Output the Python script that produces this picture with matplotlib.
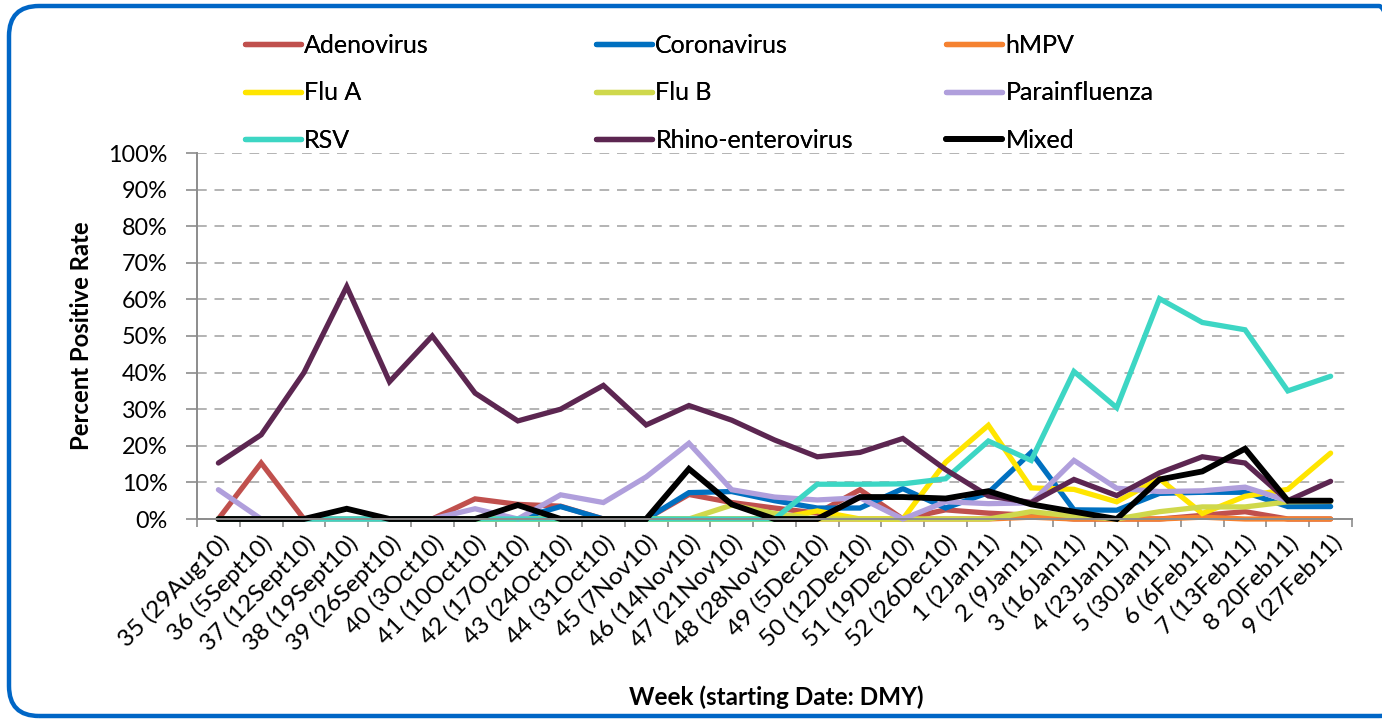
import matplotlib
matplotlib.use('Agg')
import matplotlib.pyplot as plt
from matplotlib.patches import FancyBboxPatch
from matplotlib.ticker import FixedLocator, PercentFormatter

plt.rcParams['font.family'] = ['Lato', 'DejaVu Sans']

weeks = ['35 (29Aug10)', '36 (5Sept10)', '37 (12Sept10)', '38 (19Sept10)', '39 (26Sept10)',
         '40 (3Oct10)', '41 (10Oct10)', '42 (17Oct10)', '43 (24Oct10)', '44 (31Oct10)',
         '45 (7Nov10)', '46 (14Nov10)', '47 (21Nov10)', '48 (28Nov10)', '49 (5Dec10)',
         '50 (12Dec10)', '51 (19Dec10)', '52 (26Dec10)', '1 (2Jan11)', '2 (9Jan11)',
         '3 (16Jan11)', '4 (23Jan11)', '5 (30Jan11)', '6 (6Feb11)', '7 (13Feb11)',
         '8 20Feb11)', '9 (27Feb11)']

adenovirus = [0, 15.3, 0, 0, 0, 0, 5.5, 4.0, 3.5, 0, 0, 6.7, 4.5, 3.0, 1.6, 8.0, 0, 2.5,
              1.6, 1.0, 0, 0, 0, 1.0, 2.0, 0, 0]
coronavirus = [0, 0, 0, 0, 0, 0, 0, 0, 3.4, 0, 0, 7.2, 7.5, 5.0, 3.0, 3.0, 8.3, 3.0,
               7.2, 18.2, 2.5, 2.4, 7.0, 7.3, 7.3, 3.4, 3.4]
hmpv = [0, 0, 0, 0, 0, 0, 0, 0, 0, 0, 0, 0, 0, 0, 0, 0, 0, 0,
        0, 0.5, 0, 0, 0, 0.5, 0, 0, 0]
flu_a = [0, 0, 0, 0, 0, 0, 0, 0, 0, 0, 0, 0, 0, 0, 2.2, 0, 0, 15.5,
         25.6, 8.5, 8.1, 4.7, 11.0, 1.5, 6.2, 8.1, 18.0]
flu_b = [0, 0, 0, 0, 0, 0, 0, 0, 0, 0, 0, 0, 3.8, 1.5, 0, 0, 0, 0,
         0, 2.0, 0.8, 0, 2.0, 3.3, 3.3, 4.7, 4.8]
parainfluenza = [8.0, 0, 0, 0, 0, 0, 2.8, 0, 6.6, 4.5, 11.5, 20.7, 8.0, 6.0, 5.2, 5.8, 0, 4.7,
                 4.2, 4.4, 16.0, 8.4, 7.5, 7.7, 8.7, 5.0, 5.0]
rsv = [0, 0, 0, 0, 0, 0, 0, 0, 0, 0, 0, 0, 0, 0, 9.5, 9.5, 9.6, 11.0,
       21.3, 16.0, 40.3, 30.4, 60.2, 53.7, 51.7, 35.0, 39.0]
rhino = [15.3, 23.0, 40.0, 63.5, 37.5, 50.0, 34.4, 26.8, 30.0, 36.5, 25.7, 31.0, 27.0, 21.6,
         17.0, 18.2, 22.0, 13.5, 6.3, 4.5, 10.8, 6.4, 12.6, 17.0, 15.3, 5.0, 10.3]
mixed = [0, 0, 0, 2.8, 0, 0, 0, 3.8, 0, 0, 0, 13.7, 4.0, 0, 0, 6.0, 6.0, 5.6,
         7.6, 4.0, 2.0, 0, 10.8, 13.0, 19.2, 5.0, 5.0]

series = [
    ('Adenovirus', adenovirus, '#c0504d'),
    ('Coronavirus', coronavirus, '#0070c0'),
    ('hMPV', hmpv, '#f58231'),
    ('Flu A', flu_a, '#ffe500'),
    ('Flu B', flu_b, '#cfd84c'),
    ('Parainfluenza', parainfluenza, '#b09fdc'),
    ('RSV', rsv, '#3dd6c4'),
    ('Rhino-enterovirus', rhino, '#5c2651'),
    ('Mixed', mixed, '#000000'),
]

fig = plt.figure(figsize=(13.82, 7.19), dpi=100)
W, H = 1382, 719
ax = fig.add_axes([197 / W, 1 - 519 / H, (1352 - 197) / W, (519 - 153) / H])

x = list(range(len(weeks)))
handles = {}
for name, vals, col in series:
    lw = 4.2 if name == 'Mixed' else 3.8
    ln, = ax.plot(x, vals, color=col, lw=lw, solid_capstyle='round',
                  solid_joinstyle='miter', label=name, clip_on=False)
    handles[name] = ln

ax.set_xlim(-0.5, len(weeks) - 0.5)
ax.set_ylim(0, 100)
ax.yaxis.set_major_locator(FixedLocator(range(0, 101, 10)))
ax.yaxis.set_major_formatter(PercentFormatter(decimals=0))
ax.grid(axis='y', color='#b3b3b3', ls=(0, (5, 4)), lw=1.4)
ax.set_axisbelow(True)

ax.set_xticks(x)
ax.set_xticklabels(weeks, rotation=45, ha='right', rotation_mode='anchor', fontsize=17.5)
ax.set_xticks([i - 0.5 for i in range(len(weeks) + 1)], minor=True)
ax.tick_params(axis='x', which='major', length=0, pad=9)
ax.tick_params(axis='x', which='minor', length=6, color='#8c8c8c', width=1.2)
ax.tick_params(axis='y', length=8, color='#8c8c8c', width=1.2, labelsize=16.8, pad=13)

for s in ['top', 'right']:
    ax.spines[s].set_visible(False)
for s in ['left', 'bottom']:
    ax.spines[s].set_color('#8c8c8c')
    ax.spines[s].set_linewidth(1.4)

ax.set_ylabel('Percent Positive Rate', fontsize=17.2, fontweight='bold')
ax.yaxis.set_label_coords((93 - 197) / 1155, 0.5)
fig.text(776 / W, 1 - 697 / H, 'Week (starting Date: DMY)', fontsize=17.5,
         fontweight='bold', ha='center', va='center')

# legend, three columns placed separately like the excel layout
cols = [['Adenovirus', 'Flu A', 'RSV'],
        ['Coronavirus', 'Flu B', 'Rhino-enterovirus'],
        ['hMPV', 'Parainfluenza', 'Mixed']]
xs = [245, 596, 946]
for names, xp in zip(cols, xs):
    leg = fig.legend([handles[n] for n in names], names, loc='upper left',
                     bbox_to_anchor=(xp / W, 1 - 34 / H), frameon=False,
                     fontsize=18, handlelength=2.25, handletextpad=0.12,
                     labelspacing=0.97, borderpad=0, borderaxespad=0)
    fig.add_artist(leg)

border = FancyBboxPatch((0.09, 0.03), 14.0, 7.1,
                        boxstyle='round,pad=0,rounding_size=0.3',
                        transform=fig.dpi_scale_trans, fill=False,
                        edgecolor='#0066c6', lw=3.2, clip_on=False)
fig.patches.append(border)

fig.savefig('out.png', dpi=100)
